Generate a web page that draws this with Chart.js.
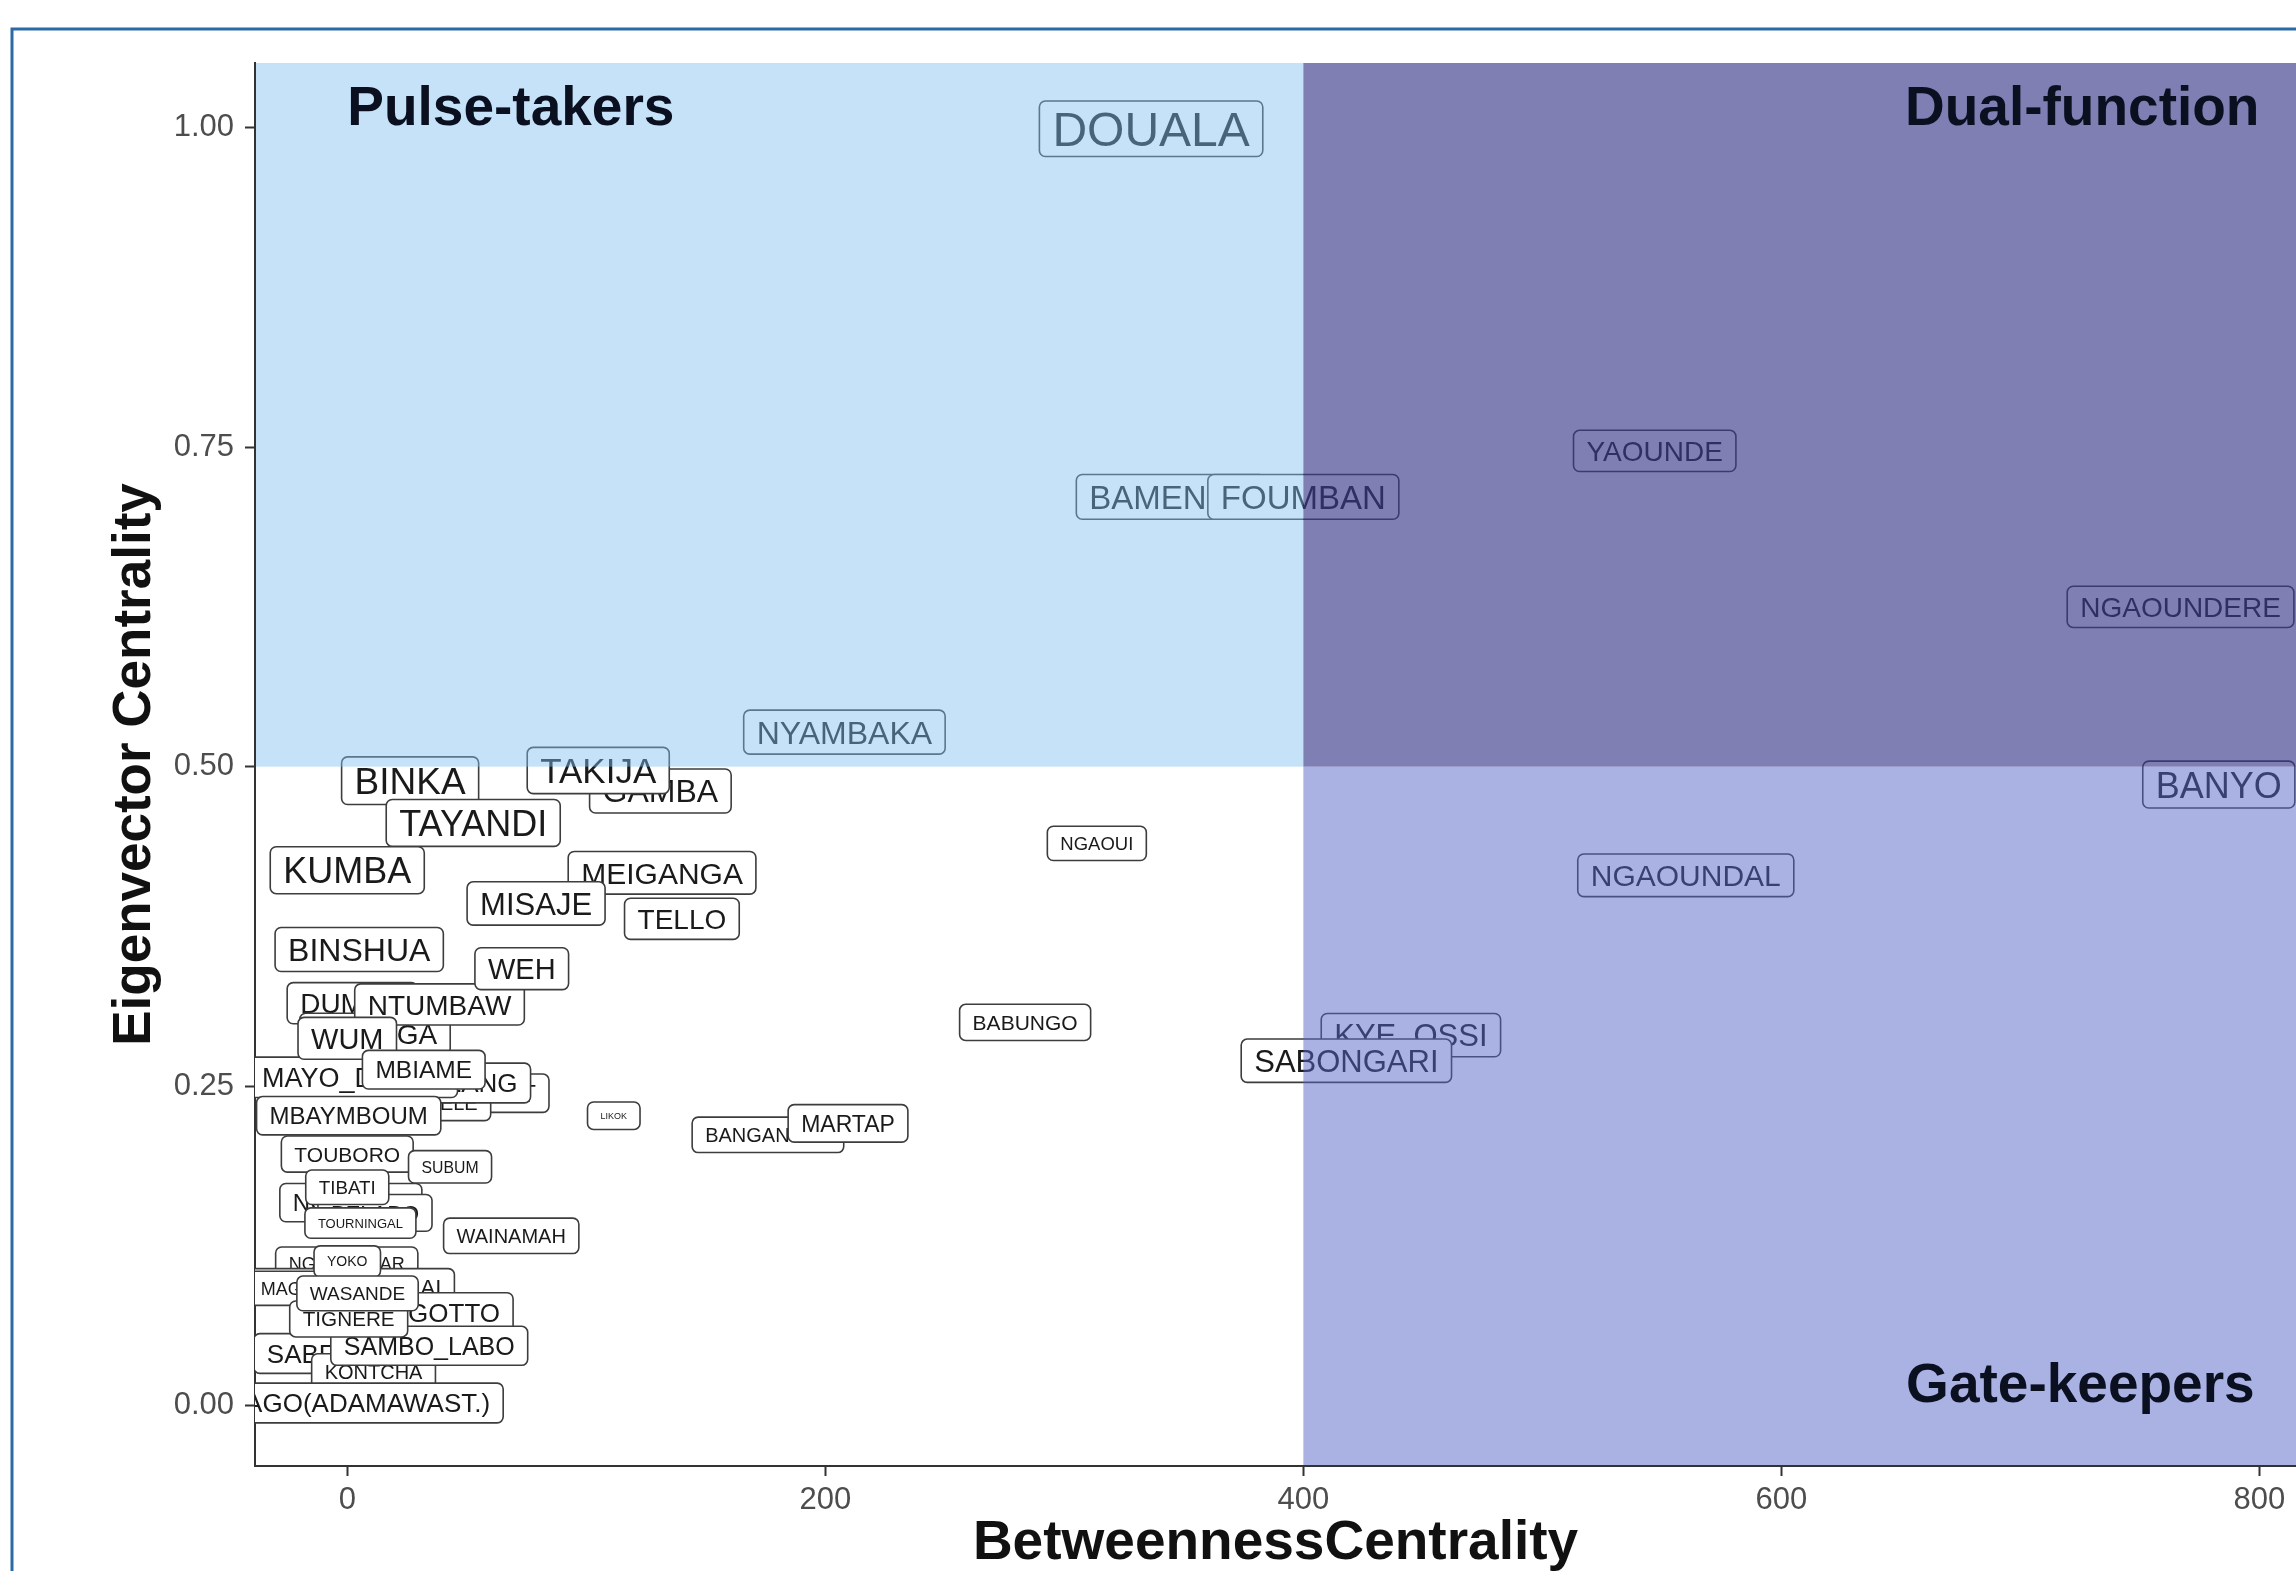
<!DOCTYPE html>
<html lang="en">
<head>
<meta charset="utf-8">
<title>Betweenness x Eigenvector Centrality</title>
<script src="https://cdn.jsdelivr.net/npm/chart.js@4.4.1/dist/chart.umd.min.js"></script>
<style>
    html, body { margin: 0; padding: 0; background: #ffffff; }
    canvas { display: block; }
</style>
</head>
<body>
<canvas id="grafico" width="2296" height="1571"></canvas>
<script>
// cidades na ordem de desenho (as primeiras ficam por baixo)
const cidades = [
    "DUMBO", "MBONGA", "BAFUT", "NDELELE", "BAMBALANG", "MAYO_DARLE", "NGAN_HA", "BELABO",
    "NGOURA", "BOUAR", "GAROUA_BOULAI", "MAGBA", "GOTTO", "SABERE", "KONTCHA",
    "DOUALA", "BAMENDA", "FOUMBAN", "YAOUNDE", "NGAOUNDERE", "BANYO", "NGAOUNDAL",
    "KYE_OSSI", "SABONGARI", "NGAOUI", "BABUNGO", "NYAMBAKA", "BINKA", "GAMBA", "TAKIJA",
    "TAYANDI", "KUMBA", "MEIGANGA", "MISAJE", "TELLO", "BINSHUA", "NTUMBAW", "WEH", "WUM",
    "MBIAME", "MBAYMBOUM", "LIKOK", "BANGANGTE", "MARTAP", "TOUBORO", "SUBUM", "TIBATI",
    "TOURNINGAL", "WAINAMAH", "YOKO", "SAMBO_LABO", "TIGNERE", "WASANDE", "BAGO(ADAMAWAST.)"
];

const betweenness = [
    2.1, 11.6, 62.5, 35.5, 37.4, 2.5, 1.5, 11.6,
    -8, 10.7, 0, -22.6, 44.7, -11.6, 11,
    336.3, 344.6, 400, 547, 767, 783, 560,
    445, 418, 313.6, 283.6, 208, 26.3, 131, 105,
    52.7, 0, 131.7, 79, 140, 5, 38.6, 73, 0,
    32, 0.6, 111.5, 176, 209.5, 0, 43, 0,
    5.5, 68.6, 0, 34.3, 0.6, 4.3, 4.9
];

const eigenvector = [
    0.315, 0.291, 0.2446, 0.237, 0.2526, 0.257, 0.159, 0.151,
    0.111, 0.111, 0.093, 0.092, 0.073, 0.041, 0.027,
    0.999, 0.711, 0.711, 0.747, 0.625, 0.486, 0.415,
    0.29, 0.27, 0.44, 0.30, 0.527, 0.489, 0.481, 0.497,
    0.456, 0.419, 0.417, 0.393, 0.381, 0.357, 0.314, 0.342, 0.2875,
    0.263, 0.227, 0.227, 0.212, 0.221, 0.197, 0.187, 0.171,
    0.143, 0.133, 0.113, 0.047, 0.068, 0.088, 0.0023
];

// tamanho do rotulo (px) de cada cidade
const tamanhos = [
    28, 28, 24, 20, 26, 27, 24, 22,
    18, 18, 22, 18, 26, 26, 20,
    48, 33, 33, 28, 28, 36, 30,
    31, 31, 18.5, 21, 32, 37, 32, 35,
    36, 36, 30, 31, 28, 32, 28, 29, 29,
    24.5, 24, 9, 20, 23, 21, 15.8, 18.8,
    13, 20, 14, 25, 20.7, 19, 26
];

const ticksX = [0, 200, 400, 600, 800];
const ticksY = [0, 0.25, 0.5, 0.75, 1];

const limiteX = 400;
const limiteY = 0.5;

const quadrantes = ["Pulse-takers", "Dual-function", "Gate-keepers"];
const quadrantesX = [0, 800, 798];
const quadrantesY = [1.0136, 1.0136, 0.015];

const FONTE = '"Liberation Sans", Arial, Helvetica, sans-serif';

function caixaArredondada(ctx, x, y, w, h, r) {
    ctx.beginPath();
    ctx.moveTo(x + r, y);
    ctx.lineTo(x + w - r, y);
    ctx.arcTo(x + w, y, x + w, y + r, r);
    ctx.lineTo(x + w, y + h - r);
    ctx.arcTo(x + w, y + h, x + w - r, y + h, r);
    ctx.lineTo(x + r, y + h);
    ctx.arcTo(x, y + h, x, y + h - r, r);
    ctx.lineTo(x, y + r);
    ctx.arcTo(x, y, x + r, y, r);
    ctx.closePath();
}

function desenharRotulo(ctx, texto, x, y, tamanho) {
    ctx.font = `${tamanho}px ${FONTE}`;
    const largura = ctx.measureText(texto).width + 26;
    const altura = tamanho * 0.72 + 21;
    caixaArredondada(ctx, x - largura / 2, y - altura / 2, largura, altura, 6);
    ctx.fillStyle = "#ffffff";
    ctx.fill();
    ctx.lineWidth = 1.6;
    ctx.strokeStyle = "#3d3d3d";
    ctx.stroke();
    ctx.fillStyle = "#1a1a1a";
    ctx.textAlign = "center";
    ctx.textBaseline = "alphabetic";
    ctx.fillText(texto, x, y + tamanho * 0.36);
}

const pluginRotulos = {
    id: "rotulos",
    beforeDraw(chart) {
        const ctx = chart.ctx;
        ctx.save();
        ctx.fillStyle = "#ffffff";
        ctx.fillRect(0, 0, chart.width, chart.height);
        ctx.strokeStyle = "#2c6aa5";
        ctx.lineWidth = 3;
        ctx.strokeRect(12, 29, chart.width + 50, chart.height + 50);
        ctx.restore();
    },
    afterDatasetsDraw(chart) {
        const { ctx, chartArea, scales } = chart;
        const meta = chart.getDatasetMeta(0);
        const area = chartArea;

        ctx.save();
        ctx.beginPath();
        ctx.rect(area.left, area.top, area.right - area.left, area.bottom - area.top);
        ctx.clip();

        meta.data.forEach((ponto, i) => desenharRotulo(ctx, cidades[i], ponto.x, ponto.y, tamanhos[i]));

        const xLimite = scales.x.getPixelForValue(limiteX);
        const yLimite = scales.y.getPixelForValue(limiteY);
        const esquerda = area.left + 1;

        ctx.fillStyle = "rgba(128, 191, 239, 0.45)";
        ctx.fillRect(esquerda, area.top, xLimite - esquerda, yLimite - area.top);
        ctx.fillStyle = "rgba(58, 58, 140, 0.65)";
        ctx.fillRect(xLimite, area.top, area.right - xLimite, yLimite - area.top);
        ctx.fillStyle = "rgba(85, 101, 201, 0.5)";
        ctx.fillRect(xLimite, yLimite, area.right - xLimite, area.bottom - 1 - yLimite);

        ctx.font = `bold 55px ${FONTE}`;
        ctx.fillStyle = "#0b1020";
        ctx.textBaseline = "middle";
        quadrantes.forEach((titulo, i) => {
            ctx.textAlign = i === 0 ? "left" : "right";
            ctx.fillText(titulo, scales.x.getPixelForValue(quadrantesX[i]), scales.y.getPixelForValue(quadrantesY[i]));
        });
        ctx.restore();
    }
};

function criarGrafico(ctx) {
    return new Chart(ctx, {
        type: "scatter",
        data: {
            datasets: [{
                label: "Cidades",
                data: cidades.map((cidade, i) => ({ x: betweenness[i], y: eigenvector[i] })),
                pointRadius: 0,
                pointHoverRadius: 0
            }]
        },
        options: {
            responsive: false,
            animation: false,
            devicePixelRatio: 1,
            layout: { padding: { top: 63, right: 0, bottom: 0, left: 0 } },
            plugins: {
                legend: { display: false },
                tooltip: { enabled: false }
            },
            scales: {
                x: {
                    type: "linear",
                    min: -38.6,
                    max: 815.3,
                    afterBuildTicks: escala => { escala.ticks = ticksX.map(v => ({ value: v })); },
                    afterFit: escala => { escala.height = 105; },
                    border: { display: true, color: "#333333", width: 2 },
                    grid: { drawOnChartArea: false, drawTicks: true, tickLength: 10, tickColor: "#333333", tickWidth: 2 },
                    ticks: {
                        padding: 6,
                        color: "#4d4d4d",
                        font: { family: FONTE, size: 31 },
                        callback: valor => String(valor)
                    },
                    title: {
                        display: true,
                        text: "BetweennessCentrality",
                        color: "#111111",
                        font: { family: FONTE, size: 55, weight: "bold", lineHeight: 1 },
                        padding: { top: 0, bottom: 0 }
                    }
                },
                y: {
                    type: "linear",
                    min: -0.047,
                    max: 1.0504,
                    afterBuildTicks: escala => { escala.ticks = ticksY.map(v => ({ value: v })); },
                    afterFit: escala => { escala.width = 255; },
                    border: { display: true, color: "#333333", width: 2 },
                    grid: { drawOnChartArea: false, drawTicks: true, tickLength: 10, tickColor: "#333333", tickWidth: 2 },
                    ticks: {
                        padding: 11,
                        color: "#4d4d4d",
                        font: { family: FONTE, size: 31 },
                        callback: valor => valor.toFixed(2)
                    },
                    title: {
                        display: true,
                        text: "Eigenvector Centrality",
                        color: "#111111",
                        font: { family: FONTE, size: 53, weight: "bold", lineHeight: 1.2 },
                        padding: { top: 104, bottom: 0 }
                    }
                }
            }
        },
        plugins: [pluginRotulos]
    });
}

window.onload = () => criarGrafico(document.querySelector("#grafico"));
</script>
</body>
</html>
